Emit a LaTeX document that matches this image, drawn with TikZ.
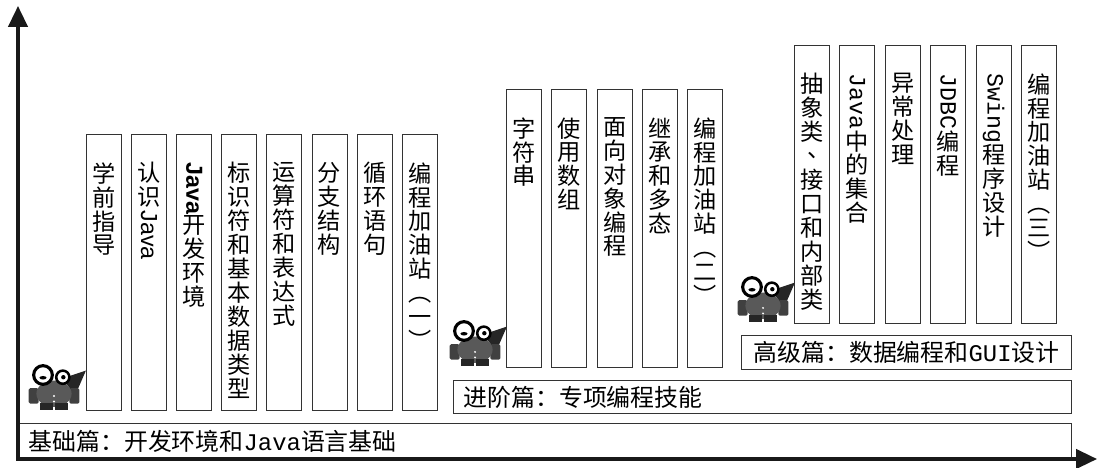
\documentclass[tikz,border=0pt]{standalone}
\usepackage{graphicx}
\usepackage{fontspec}
\setmainfont{Liberation Serif}
\setsansfont{Liberation Sans}
\setmonofont{Liberation Mono}
\newfontfamily\cjk{Noto Sans CJK SC}
\usetikzlibrary{arrows.meta,positioning}

% Latin words set sideways inside a vertical column
\newcommand\vlat[1]{\raisebox{0.82em}{\rotatebox{-90}{#1}}}
% stack the characters of a label one below the other
\makeatletter
\newcommand\vtext[1]{\vtop{\baselineskip=17pt\lineskip=1pt\lineskiplimit=0pt\expandafter\vtext@#1\@nil}}
\def\vtext@#1{\def\vtext@arg{#1}\ifx\vtext@arg\@nnil\else\hbox to 1.2em{\hss#1\hss}\expandafter\vtext@\fi}
\makeatother

\begin{document}
\begin{tikzpicture}[
    x=0.025cm, y=-0.025cm,
    line width=0.7pt,
    % Styles for axes, columns and level bars
    axis/.style={line width=2.2pt, draw=black!90,
        {Triangle[length=0.52cm,width=0.48cm]}-{Triangle[length=0.52cm,width=0.48cm]}},
    colbox/.style={draw=black!80, line width=0.7pt, minimum width=0.875cm, inner sep=0pt, anchor=north west},
    coltext/.style={inner sep=0pt, font=\cjk\fontsize{16.5pt}{17pt}\selectfont},
    bar/.style={draw=black!80, line width=0.8pt, inner sep=0pt, anchor=north west},
    bartext/.style={inner sep=0pt, anchor=west, font=\cjk\fontsize{17pt}{17pt}\selectfont},
    mascot/.pic={
        % wing
        \fill[black!85] (18,3) -- (39,-4) -- (29,19) -- cycle;
        % arms
        \fill[black!75, rounded corners=1pt] (-13,12) rectangle (-4,26);
        \fill[black!75, rounded corners=1pt] (24,12) rectangle (33,26);
        % body
        \fill[black!65] (10,17) ellipse (16 and 12);
        % feet
        \fill[black!85] (-3,25) rectangle (9,32);
        \fill[black!85] (11,25) rectangle (23,32);
        % eyes
        \filldraw[fill=white, draw=black, line width=2.2pt] (0,0) circle (8.5);
        \filldraw[fill=white, draw=black, line width=1.8pt] (18,2) circle (6);
        \fill (0,2.5) ellipse (3.2 and 1.6);
        \fill (18.5,2) circle (2);
        % buttons
        \fill[white] (10,19) circle (1) (10,24) circle (1);
    }
]
    \useasboundingbox (0,0) rectangle (1098,467);

    % ==========================
    % Level bars
    % ==========================
    \node[bar, minimum width=26.325cm, minimum height=0.9cm] (basic) at (18,423) {};
    \node[bartext, right=0.25cm of basic.west] (basic-t) {基础篇：开发环境和{\ttfamily Java}语言基础};

    \node[bar, minimum width=15.45cm, minimum height=0.825cm] (adv) at (453,380) {};
    \node[bartext, right=0.25cm of adv.west] (adv-t) {进阶篇：专项编程技能};

    \node[bar, minimum width=8.25cm, minimum height=0.85cm] (high) at (741,335) {};
    \node[bartext, right=0.3cm of high.west] (high-t) {高级篇：数据编程和{\ttfamily GUI}设计};

    % ==========================
    % Basic chapters
    % ==========================
    \foreach \lbl [count=\i] in {
        {学前指导},
        {认识{\vlat{\sffamily Java}}},
        {{\vlat{\sffamily\bfseries Java}}开发环境},
        {标识符和基本数据类型},
        {运算符和表达式},
        {分支结构},
        {循环语句},
        {编程加油站︵一︶}}{
        \node[colbox, minimum height=6.9cm] (b\i) at ({86+45.1*(\i-1)},134) {};
        \node[coltext, below=0.7cm of b\i.north] (b\i-t) {\vtext{\lbl}};
    }

    % ==========================
    % Advanced chapters
    % ==========================
    \foreach \lbl [count=\i] in {
        {字符串},
        {使用数组},
        {面向对象编程},
        {继承和多态},
        {编程加油站︵二︶}}{
        \node[colbox, minimum height=6.95cm] (a\i) at ({506+45.3*(\i-1)},89) {};
        \node[coltext, below=0.7cm of a\i.north] (a\i-t) {\vtext{\lbl}};
    }

    % ==========================
    % High level chapters
    % ==========================
    \foreach \lbl [count=\i] in {
        {抽象类{\hspace{0.6em}\raisebox{0.3em}{、}}接口和内部类},
        {{\vlat{\ttfamily Java}}中的集合},
        {异常处理},
        {{\vlat{\ttfamily JDBC}}编程},
        {{\vlat{\ttfamily Swing}}程序设计},
        {编程加油站︵三︶}}{
        \node[colbox, minimum height=6.95cm] (h\i) at ({794+45.4*(\i-1)},45) {};
        \node[coltext, below=0.7cm of h\i.north] (h\i-t) {\vtext{\lbl}};
    }

    % mascots at the start of each level
    \pic[scale=1.1] (m1) at (43,375) {mascot};
    \pic[scale=1.1] (m2) at (464,331) {mascot};
    \pic[scale=1.1] (m3) at (752,287) {mascot};

    % ==========================
    % Axes
    % ==========================
    \coordinate (O) at (18,459);
    \coordinate (ytip) at (18,6);
    \coordinate (xtip) at (1097,459);
    \draw[axis] (ytip) -- (O) -- (xtip);

\end{tikzpicture}
\end{document}
